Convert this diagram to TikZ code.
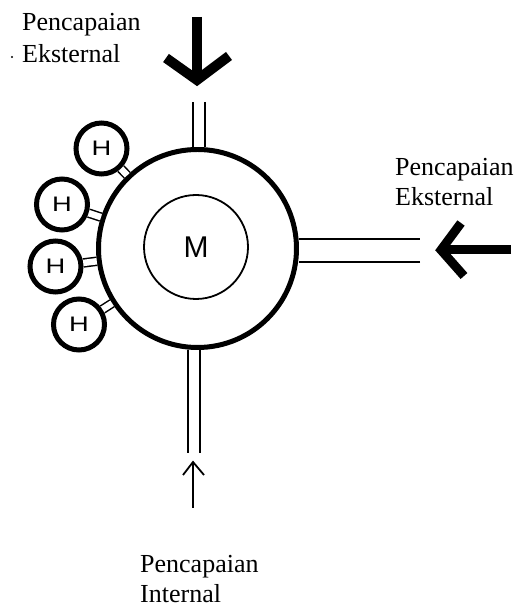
\documentclass[tikz,border=0pt]{standalone}
\usepackage{fontspec}
\setmainfont{Liberation Serif}
\newfontfamily\handfont{Liberation Sans}
\begin{document}
\begin{tikzpicture}[x=1pt,y=1pt,
  hub/.style={circle, draw, line width=5pt, minimum size=198pt, inner sep=0pt},
  core/.style={circle, draw, line width=1.8pt, minimum size=104pt, inner sep=0pt,
    font=\handfont\fontsize{30}{30}\selectfont},
  sat/.style={circle, draw, line width=5pt, minimum size=51pt, inner sep=0pt,
    font=\handfont\fontsize{21}{21}\selectfont},
  spoke/.style={line width=1.6pt, double distance=10.4pt},
  widespoke/.style={line width=1.6pt, double distance=21.4pt},
  stub/.style={line width=1.5pt, double distance=6.5pt},
  heavyarrow/.style={line width=10pt, line join=miter},
  mediumarrow/.style={line width=9pt, line join=miter},
  thinarrow/.style={line width=1.8pt, line join=miter},
  lbl/.style={font=\fontsize{26}{30}\selectfont, align=left, anchor=north west, inner sep=0pt}
]
\useasboundingbox (0,0) rectangle (516,607);

% central circles
\node[hub] (hub) at (197.5,358.5) {};
\node[core] (core) at (196,360) {M};

% satellites
\node[sat] (h1) at (101.5,458.5) {\scalebox{1.3}[1]{H}};
\node[sat] (h2) at (62,402.5) {\scalebox{1.3}[1]{H}};
\node[sat] (h3) at (55.5,340.5) {\scalebox{1.3}[1]{H}};
\node[sat] (h4) at (79,282.5) {\scalebox{1.3}[1]{H}};

\draw[stub] (h1) -- (hub);
\draw[stub] (h2) -- (hub);
\draw[stub] (h3) -- (hub);
\draw[stub] (h4) -- (hub);

% spokes
\coordinate (topend) at (199,505);
\coordinate (rightend) at (420,356.5);
\coordinate (botend) at (194,154);
\draw[spoke] (topend) -- (topend |- hub.north);
\draw[widespoke] (rightend) -- (hub.east |- rightend);
\draw[spoke] (botend) -- (botend |- hub.south);

% top arrow
\coordinate (ta) at (197,590);
\coordinate (tt) at (197,527);
\coordinate (tl) at (166,549);
\coordinate (tr) at (229,551);
\draw[heavyarrow] (ta) -- (tt);
\draw[heavyarrow] (tl) -- (tt) -- (tr);

% right arrow
\coordinate (ra) at (511,357);
\coordinate (rt) at (441,357);
\coordinate (ru) at (461,384);
\coordinate (rd) at (464,331);
\draw[mediumarrow] (ra) -- (rt);
\draw[mediumarrow] (ru) -- (rt) -- (rd);

% bottom arrow
\coordinate (ba) at (193,99);
\coordinate (bt) at (193,145);
\coordinate (bl) at (183,132);
\coordinate (br) at (204,132);
\draw[thinarrow] (ba) -- (bt);
\draw[thinarrow] (bl) -- (bt) -- (br);

% labels
\node[lbl] (ltop) at (22,594) {Pencapaian\\[2pt]Eksternal};
\fill (12,550) circle (1.2pt);
\node[lbl] (lright) at (395,449) {Pencapaian\\Eksternal};
\node[lbl] (lbot) at (140,52) {Pencapaian\\Internal};
\end{tikzpicture}
\end{document}
